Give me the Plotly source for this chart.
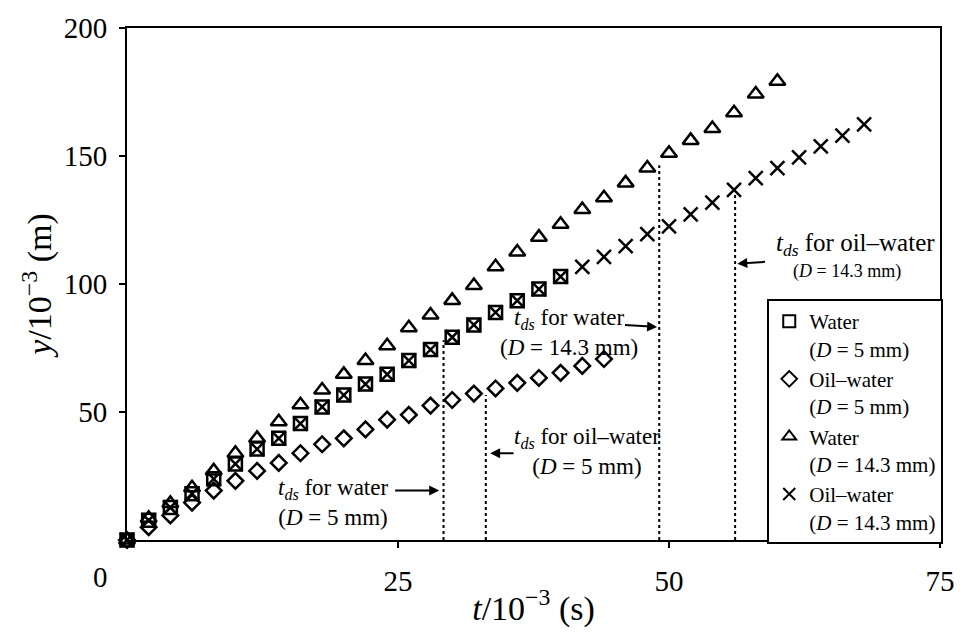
import plotly.graph_objects as go

# time steps (ms) and displacement (mm)
t_water_5 = [0, 2, 4, 6, 8, 10, 12, 14, 16, 18, 20, 22, 24, 26, 28, 30, 32, 34, 36, 38, 40]
y_water_5 = [0, 7.7, 12.7, 18.1, 23.9, 29.7, 35.5, 39.7, 45.5, 52.0, 56.6, 60.9, 64.7, 70.1,
             74.4, 79.2, 84.0, 88.9, 93.5, 98.0, 102.9]

t_oil_5 = [0, 2, 4, 6, 8, 10, 12, 14, 16, 18, 20, 22, 24, 26, 28, 30, 32, 34, 36, 38, 40, 42, 44]
y_oil_5 = [0, 5.0, 9.6, 14.6, 19.3, 23.1, 27.0, 30.1, 33.9, 37.4, 39.7, 43.2, 47.0, 48.9,
           52.5, 54.7, 57.2, 59.2, 61.4, 63.3, 65.3, 68.0, 70.7]

t_water_14 = [0, 2, 4, 6, 8, 10, 12, 14, 16, 18, 20, 22, 24, 26, 28, 30, 32, 34, 36, 38, 40,
              42, 44, 46, 48, 50, 52, 54, 56, 58, 60]
y_water_14 = [0, 8.5, 14.3, 20.4, 27.0, 33.9, 39.7, 46.2, 52.8, 58.6, 64.7, 70.1, 75.9, 82.9,
              87.9, 93.6, 99.4, 106.7, 112.5, 118.3, 123.3, 129.1, 133.7, 139.5, 145.3,
              151.1, 156.1, 160.7, 166.9, 174.2, 179.2]

t_oil_14 = [0, 2, 4, 6, 8, 10, 12, 14, 16, 18, 20, 22, 24, 26, 28, 30, 32, 34, 36, 38, 40,
            42, 44, 46, 48, 50, 52, 54, 56, 58, 60, 62, 64, 66, 68]
y_oil_14 = [0, 7.7, 12.7, 18.1, 23.9, 29.7, 35.5, 39.7, 45.5, 52.0, 56.6, 60.9, 64.7, 70.1,
            74.4, 79.2, 84.0, 88.9, 93.5, 98.0, 102.9, 106.7, 110.6, 114.8, 119.5, 122.5,
            127.2, 131.8, 136.8, 141.4, 145.3, 149.5, 153.8, 158.0, 162.4]

# drop-off times t_ds (ms) and the heights their dotted guides reach
t_ds = [29.2, 33.1, 49.1, 56.1]
y_ds = [78.0, 56.6, 146.4, 134.9]

x_ticks = [25, 50, 75]
y_ticks = [50, 100, 150, 200]

names = ["Water<br>(<i>D</i> = 5 mm)", "Oil–water<br>(<i>D</i> = 5 mm)",
         "Water<br>(<i>D</i> = 14.3 mm)", "Oil–water<br>(<i>D</i> = 14.3 mm)"]

FONT = "Liberation Serif"
fig = go.Figure()

# dotted guides from the axis up to each t_ds
for tx, ty in zip(t_ds, y_ds):
    fig.add_trace(go.Scatter(x=[tx, tx], y=[0, ty], mode="lines",
                             line=dict(color="black", width=2, dash="dot"),
                             showlegend=False, hoverinfo="skip"))

series = [
    (t_water_5, y_water_5, "square-open", 13),
    (t_oil_5, y_oil_5, "diamond-open", 12),
    (t_water_14, y_water_14, "triangle-up-open", 14),
    (t_oil_14, y_oil_14, "x-thin-open", 14),
]
for (tx, ty, sym, sz), nm in zip(series, names):
    fig.add_trace(go.Scatter(
        x=tx, y=ty, mode="markers", name=nm, cliponaxis=False,
        marker=dict(symbol=sym, size=sz, color="black",
                    line=dict(color="black", width=2.5))))

tds = "<i>t</i><sub><i>ds</i></sub>"
ann_font = dict(family=FONT, size=23, color="black")
annotations = [
    dict(x=19.0, y=14.6, text=f"{tds} for water<br>(<i>D</i> = 5 mm)"),
    dict(x=42.4, y=34.7, text=f"{tds} for oil–water<br>(<i>D</i> = 5 mm)"),
    dict(x=40.8, y=80.9, text=f"{tds} for water<br>(<i>D</i> = 14.3 mm)"),
    dict(x=67.2, y=115.6, text=f"{tds} for oil–water", font=dict(family=FONT, size=25, color="black")),
    dict(x=66.4, y=104.9, text="(<i>D</i> = 14.3 mm)", font=dict(family=FONT, size=18, color="black")),
]
for a in annotations:
    a.setdefault("font", ann_font)
    fig.add_annotation(xref="x", yref="y", showarrow=False, align="center", **a)

# arrows pointing at the dotted guides: (tail x, tail y, head x, head y)
arrows = [
    (24.6, 19.3, 28.8, 19.3),
    (35.8, 33.9, 33.5, 33.9),
    (45.8, 84.0, 48.9, 83.2),
    (59.0, 108.7, 56.3, 107.9),
]
for ax0, ay0, hx, hy in arrows:
    fig.add_annotation(x=hx, y=hy, ax=ax0, ay=ay0, xref="x", yref="y",
                       axref="x", ayref="y", text="", showarrow=True,
                       arrowhead=2, arrowsize=1, arrowwidth=2, arrowcolor="black")

# lone "0" label at the lower left corner
fig.add_annotation(xref="paper", yref="paper", x=-0.033, y=-0.073, text="0",
                   xanchor="center", yanchor="middle", showarrow=False,
                   font=dict(family=FONT, size=29, color="black"))

fig.update_layout(
    width=967, height=637,
    margin=dict(l=127, r=22, t=21, b=97),
    paper_bgcolor="white", plot_bgcolor="white",
    font=dict(family=FONT, size=29, color="black"),
    legend=dict(x=1.004, y=-0.008, xanchor="right", yanchor="bottom",
                bgcolor="white", bordercolor="black", borderwidth=2,
                font=dict(family=FONT, size=21, color="black"),
                valign="top", itemsizing="constant", tracegroupgap=0),
    xaxis=dict(range=[0, 75], tickvals=x_ticks, ticks="outside", ticklen=6,
               tickwidth=2, tickcolor="black", showgrid=False, zeroline=False,
               showline=True, linecolor="black", linewidth=2, mirror=True,
               tickfont=dict(family=FONT, size=29), ticklabelstandoff=8,
               title=dict(text="<i>t</i>/10<sup>−3</sup> (s)", standoff=0,
                          font=dict(family=FONT, size=34))),
    yaxis=dict(range=[0, 200], tickvals=y_ticks, ticks="outside", ticklen=6,
               tickwidth=2, tickcolor="black", showgrid=False, zeroline=False,
               showline=True, linecolor="black", linewidth=2, mirror=True,
               tickfont=dict(family=FONT, size=29), ticklabelstandoff=6,
               title=dict(text="<i>y</i>/10<sup>−3</sup> (m)", standoff=2,
                          font=dict(family=FONT, size=34))),
)

fig.write_html("out.html")
